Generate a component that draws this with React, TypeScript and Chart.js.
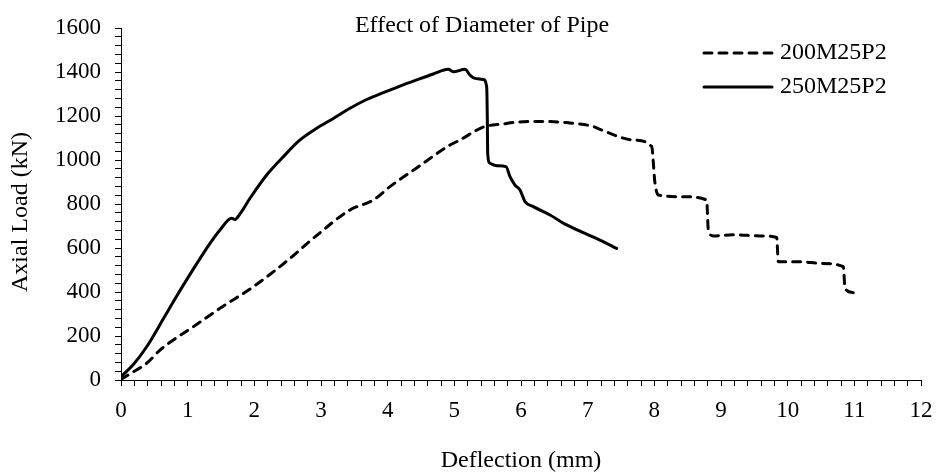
import React, { useEffect, useRef } from "react";
import { Chart, registerables } from "chart.js";

Chart.register(...registerables);

const chartTitle = "Effect of Diameter of Pipe";
const xAxisTitle = "Deflection (mm)";
const yAxisTitle = "Axial Load (kN)";

const seriesNames = ["200M25P2", "250M25P2"];

// 200M25P2 (dashed)
const defl200 = [0, 0.135, 0.385, 0.585, 0.785, 1.085, 1.485, 1.985, 2.485, 2.9, 3.435, 3.785, 4.035, 4.435, 4.935, 5.085, 5.435, 5.735, 5.935, 6.285, 6.685, 7.085, 7.185, 7.685, 7.96, 8.01, 8.06, 8.435, 8.785, 8.81, 8.885, 9.185, 9.6, 9.835, 9.86, 10.185, 10.5, 10.835, 10.86, 10.985];
const load200 = [3, 28, 76, 136, 182, 242, 326, 424, 540, 648, 773, 818, 879, 964, 1068, 1091, 1150, 1164, 1172, 1175, 1170, 1152, 1139, 1091, 1061, 894, 841, 833, 818, 680, 655, 660, 655, 648, 538, 538, 530, 515, 417, 397];

// 250M25P2 (solid)
const defl250 = [0, 0.185, 0.385, 0.635, 0.785, 1.035, 1.335, 1.485, 1.66, 1.71, 1.785, 1.935, 2.185, 2.435, 2.685, 2.935, 3.185, 3.435, 3.685, 3.935, 4.185, 4.435, 4.685, 4.91, 4.985, 5.16, 5.235, 5.31, 5.435, 5.485, 5.495, 5.5, 5.535, 5.635, 5.775, 5.835, 5.91, 5.985, 6.06, 6.185, 6.435, 6.685, 7.185, 7.435];
const load250 = [15, 70, 151, 278, 356, 480, 621, 682, 735, 730, 755, 826, 932, 1015, 1091, 1144, 1189, 1235, 1275, 1306, 1336, 1364, 1391, 1412, 1401, 1412, 1386, 1371, 1366, 1333, 1182, 1030, 985, 974, 970, 924, 886, 864, 811, 788, 750, 705, 636, 598];

const xTickLabels = ["0", "1", "2", "3", "4", "5", "6", "7", "8", "9", "10", "11", "12"];
const yTickLabels = ["0", "200", "400", "600", "800", "1000", "1200", "1400", "1600"];

const FONT = "'Liberation Serif', 'Times New Roman', serif";

const overlayPlugin = {
  id: "overlay",
  afterDraw(chart: any) {
    const ctx = chart.ctx as CanvasRenderingContext2D;
    const area = chart.chartArea;
    ctx.save();
    ctx.fillStyle = "#000";
    ctx.font = `24px ${FONT}`;
    ctx.textAlign = "center";
    ctx.textBaseline = "alphabetic";
    ctx.fillText(chartTitle, 482, 32);
    ctx.fillText(xAxisTitle, (area.left + area.right) / 2, 467);
    ctx.save();
    ctx.translate(27, 212);
    ctx.rotate(-Math.PI / 2);
    ctx.fillText(yAxisTitle, 0, 0);
    ctx.restore();
    const rows = [53, 87];
    chart.data.datasets.forEach((ds: any, i: number) => {
      const y = rows[i];
      ctx.save();
      ctx.strokeStyle = ds.borderColor;
      ctx.lineWidth = ds.borderWidth;
      ctx.lineCap = ds.borderCapStyle || "butt";
      ctx.setLineDash(ds.borderDash || []);
      ctx.beginPath();
      ctx.moveTo(704, y);
      ctx.lineTo(772, y);
      ctx.stroke();
      ctx.restore();
      ctx.font = `24px ${FONT}`;
      ctx.textAlign = "left";
      ctx.textBaseline = "middle";
      ctx.fillText(ds.label, 780, y);
    });
    ctx.restore();
  },
};

export default function App() {
  const ref = useRef<HTMLCanvasElement>(null);
  useEffect(() => {
    if (!ref.current) return;
    const d200 = defl200.map((x, i) => ({ x, y: load200[i] }));
    const d250 = defl250.map((x, i) => ({ x, y: load250[i] }));
    const chart = new Chart(ref.current, {
      type: "scatter",
      data: {
        datasets: [
          {
            label: seriesNames[0],
            data: d200,
            showLine: true,
            borderColor: "#000",
            backgroundColor: "#000",
            borderWidth: 3,
            borderDash: [8, 7],
            borderCapStyle: "round",
            pointRadius: 0,
            cubicInterpolationMode: "monotone",
          },
          {
            label: seriesNames[1],
            data: d250,
            showLine: true,
            borderColor: "#000",
            backgroundColor: "#000",
            borderWidth: 3,
            borderCapStyle: "round",
            pointRadius: 0,
            cubicInterpolationMode: "monotone",
          },
        ] as any,
      },
      options: {
        animation: false,
        responsive: false,
        devicePixelRatio: 1,
        layout: { padding: { left: 0, top: 28, right: 15, bottom: 0 } },
        plugins: { legend: { display: false }, title: { display: false }, tooltip: { enabled: false } },
        scales: {
          x: {
            type: "linear",
            min: 0,
            max: 12,
            afterBuildTicks: (scale: any) => {
              const t = [];
              for (let i = 0; i <= 60; i++) t.push({ value: i / 5 });
              scale.ticks = t;
            },
            afterFit: (scale: any) => {
              scale.height = 93;
              scale.paddingLeft = 0;
              scale.paddingRight = 0;
            },
            ticks: {
              autoSkip: false,
              maxRotation: 0,
              padding: 11,
              color: "#000",
              font: { family: FONT, size: 23 },
              callback: (v: any) => {
                const n = Number(v);
                return Math.abs(n - Math.round(n)) < 1e-6 ? xTickLabels[Math.round(n)] : "";
              },
            },
            grid: { drawOnChartArea: false, drawTicks: true, tickLength: 6, color: "#000", lineWidth: 1 },
            border: { display: true, color: "#000", width: 1 },
          },
          y: {
            type: "linear",
            min: 0,
            max: 1600,
            afterBuildTicks: (scale: any) => {
              const t = [];
              for (let i = 0; i <= 40; i++) t.push({ value: i * 40 });
              scale.ticks = t;
            },
            afterFit: (scale: any) => {
              scale.width = 121;
              scale.paddingTop = 0;
              scale.paddingBottom = 0;
            },
            ticks: {
              autoSkip: false,
              padding: 14,
              color: "#000",
              font: { family: FONT, size: 23 },
              callback: (v: any) => {
                const n = Number(v);
                return n % 200 === 0 ? yTickLabels[n / 200] : "";
              },
            },
            grid: { drawOnChartArea: false, drawTicks: true, tickLength: 6, color: "#000", lineWidth: 1 },
            border: { display: true, color: "#000", width: 1 },
          },
        },
      },
      plugins: [overlayPlugin],
    });
    return () => chart.destroy();
  }, []);
  return (
    <div style={{ position: "fixed", left: 0, top: 0, width: 936, height: 473, background: "#fff" }}>
      <canvas ref={ref} width={936} height={473} style={{ width: 936, height: 473 }} />
    </div>
  );
}
